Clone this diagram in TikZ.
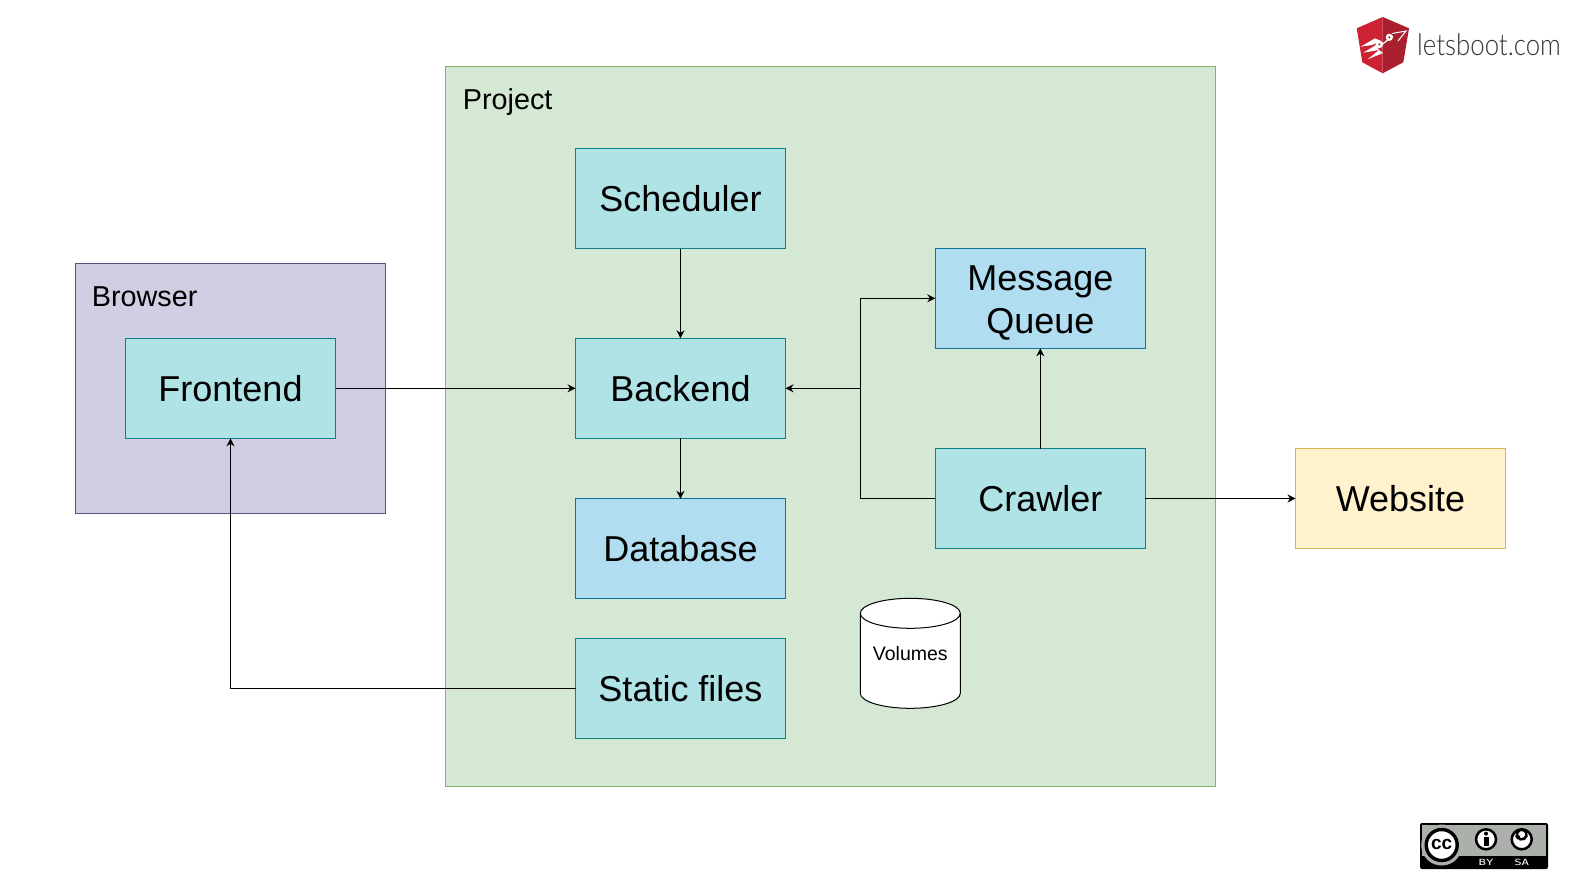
\documentclass[tikz,border=0pt]{standalone}
\usepackage{fontspec}
\setmainfont{Liberation Sans}
\newfontfamily\lbfont{Lato Light}
\newfontfamily\monof{DejaVu Sans Mono}
\usetikzlibrary{arrows.meta,positioning}
\definecolor{prjf}{HTML}{D5E8D4}\definecolor{prjd}{HTML}{82B366}
\definecolor{brwf}{HTML}{D0CEE2}\definecolor{brwd}{HTML}{56517E}
\definecolor{tealf}{HTML}{B0E3E6}\definecolor{teald}{HTML}{0E8088}
\definecolor{bluef}{HTML}{B1DDF0}\definecolor{blued}{HTML}{10739E}
\definecolor{yelf}{HTML}{FFF2CC}\definecolor{yeld}{HTML}{D6B656}
\definecolor{lbl}{HTML}{CC2233}\definecolor{lbr}{HTML}{AA1F2E}
\definecolor{ccg}{HTML}{ABB1AA}
\tikzset{
  base/.style={rectangle,inner sep=0pt,outer sep=0pt,line width=1pt,minimum width=210pt,minimum height=100pt,align=center,font=\fontsize{36}{43}\selectfont,text=black},
  tealbox/.style={base,draw=teald,fill=tealf},
  bluebox/.style={base,draw=blued,fill=bluef},
  yelbox/.style={base,draw=yeld,fill=yelf},
  link/.style={draw=black,line width=1pt,-{Stealth[length=8pt,width=8pt]}},
  plain/.style={draw=black,line width=1pt},
  title/.style={inner sep=0pt,outer sep=0pt,anchor=west,font=\fontsize{28.8}{34}\selectfont,text=black},
  badge/.style={inner sep=0pt,font=\monof\fontsize{8.5}{9}\selectfont,text=white},
}
\begin{document}
\begin{tikzpicture}[x=1pt,y=-1pt]
\useasboundingbox (0,0) rectangle (1581,881);
\fill[white] (0,0) rectangle (1581,881);
% containers
\node[rectangle,draw=prjd,fill=prjf,line width=1pt,inner sep=0pt,outer sep=0pt,minimum width=769.5pt,minimum height=720pt] (project) at (830.4,426.5) {};
\node[rectangle,draw=brwd,fill=brwf,line width=1pt,inner sep=0pt,outer sep=0pt,minimum width=309.6pt,minimum height=249.6pt] (browser) at (230.4,388.4) {};
\node[title] (ptitle) at (462.8,101.8) {Project};
\node[title] (btitle) at (91.8,296.5) {Browser};
% boxes
\node[tealbox] (frontend) at (230.5,388.3) {Frontend};
\node[tealbox] (scheduler) at (680.5,198.6) {Scheduler};
\node[tealbox] (backend) at (680.5,388.3) {Backend};
\node[bluebox] (database) at (680.5,548.8) {Database};
\node[tealbox] (static) at (680.5,688.7) {Static files};
\node[bluebox] (mq) at (1040.3,298.3) {\rule{0pt}{34pt}Message\\Queue};
\node[tealbox] (crawler) at (1040.3,498.5) {Crawler};
\node[yelbox] (website) at (1400.5,498.5) {Website};
% connectors
\coordinate (jt) at (860.3,298.3);
\coordinate (jm) at (860.3,388.3);
\coordinate (jb) at (860.3,498.5);
\path[link] (scheduler) -- (backend);
\path[link] (backend) -- (database);
\path[link] (frontend) -- (backend);
\path[link] (static.west) -| (frontend.south);
\path[link] (crawler) -- (website);
\path[link] (crawler) -- (mq);
\path[plain] (crawler.west) -- (jb) -- (jm);
\path[link] (jm) -- (backend.east);
\path[link] (jm) -- (jt) -- (mq.west);
% cylinder
\path[draw=black,fill=white,line width=1pt]
  (860.3,613.3) .. controls (860.3,605) and (882.7,598.3) .. (910.3,598.3)
  .. controls (937.9,598.3) and (960.3,605) .. (960.3,613.3)
  -- (960.3,693.3) .. controls (960.3,701.6) and (937.9,708.3) .. (910.3,708.3)
  .. controls (882.7,708.3) and (860.3,701.6) .. (860.3,693.3) -- cycle;
\path[draw=black,line width=1pt]
  (860.3,613.3) .. controls (860.3,621.6) and (882.7,628.3) .. (910.3,628.3)
  .. controls (937.9,628.3) and (960.3,621.6) .. (960.3,613.3);
\node[inner sep=0pt,font=\fontsize{19.5}{23}\selectfont,text=black] (volumes) at (910.3,653.3) {Volumes};
% letsboot logo
\fill[lbl] (1382.7,17) -- (1356.7,28.3) -- (1362.3,62.3) -- (1382.7,73.3) -- cycle;
\fill[lbr] (1382.7,17) -- (1409,28.3) -- (1403.3,62.3) -- (1382.7,73.3) -- cycle;
\fill[white] (1360.7,46.7) -- (1375,38.3) -- (1381,41) -- (1372,45) -- cycle;
\fill[white] (1363.3,52.7) -- (1376,45) -- (1379,50) -- cycle;
\fill[white] (1367.7,59.3) -- (1379,50) -- (1383,53) -- cycle;
\fill[white] (1379.3,44.3) circle (3.8pt);
\fill[white] (1389.3,37.3) circle (3.6pt);
\draw[white,line width=1pt] (1392,33.5) -- (1406,31) -- (1398,41);
\draw[white,line width=1.2pt] (1376,49) -- (1393,36);
\fill[lbl] (1379.3,44.3) circle (1.2pt);
\fill[lbr] (1389.3,37.3) circle (1.2pt);
\node[inner sep=0pt,anchor=base west,font=\fontsize{30}{34}\lbfont,text=black!80] (lbtext) at (1417,55.5) {\scalebox{0.86}[1]{letsboot.com}};
% cc badge
\fill[black,rounded corners=2pt] (1420,823) rectangle (1548,869);
\fill[ccg] (1422,825) rectangle (1546,856);
\fill[ccg] (1441.7,845) circle (20.5pt);
\fill[white,draw=black,line width=3.4pt] (1441.7,845) circle (15.5pt);
\node[inner sep=0pt,font=\bfseries\fontsize{19}{19}\selectfont,text=black] (cc) at (1441.7,844) {cc};
\fill[white,draw=black,line width=2.5pt] (1486,839.3) circle (10pt);
\fill[black] (1486,833.6) circle (2pt);
\fill[black] (1483.5,836.8) rectangle (1488.5,845.5);
\fill[white,draw=black,line width=2.5pt] (1521.7,839.3) circle (10pt);
\draw[black,line width=2.6pt] (1517.4,836.9) arc (209:-150:4.9pt);
\fill[black] (1514.5,835.5) -- (1520.5,835.5) -- (1517.5,839.5) -- cycle;
\node[badge] (by) at (1486,862.5) {\scalebox{1.45}[1]{BY}};
\node[badge] (sa) at (1521.7,862.5) {\scalebox{1.45}[1]{SA}};
\end{tikzpicture}
\end{document}
